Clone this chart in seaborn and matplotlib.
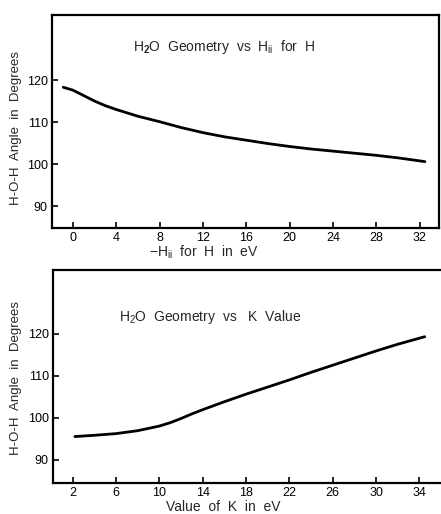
import matplotlib
matplotlib.use("Agg")
import matplotlib.pyplot as plt
import seaborn as sns
import pandas as pd

# Top panel: H-O-H angle vs -Hii for H
hii_x = [-0.9, 0, 1, 2, 3, 4, 6, 8, 10, 12, 14, 16, 18, 20, 22, 24, 26, 28, 30, 32.5]
hii_angle = [118.3, 117.6, 116.3, 115.0, 113.9, 113.0, 111.4, 110.1, 108.7, 107.5,
             106.5, 105.7, 104.9, 104.2, 103.6, 103.1, 102.6, 102.1, 101.5, 100.6]

# Bottom panel: H-O-H angle vs K value
k_x = [2.2, 4, 6, 8, 10, 11, 12, 13, 14, 16, 18, 20, 22, 24, 26, 28, 30, 32, 34.5]
k_angle = [95.5, 95.8, 96.2, 96.9, 98.0, 98.8, 99.8, 100.9, 101.9, 103.8, 105.6,
           107.3, 109.0, 110.8, 112.5, 114.2, 115.9, 117.5, 119.3]

top_xticks = [0, 4, 8, 12, 16, 20, 24, 28, 32]
bot_xticks = [2, 6, 10, 14, 18, 22, 26, 30, 34]
yticks = [90, 100, 110, 120]

sns.set_style("ticks")
plt.rcParams['font.family'] = ['Liberation Sans', 'DejaVu Sans']
plt.rcParams['mathtext.fontset'] = 'custom'
plt.rcParams['mathtext.rm'] = 'Liberation Sans'
plt.rcParams['mathtext.it'] = 'Liberation Sans'
plt.rcParams['mathtext.bf'] = 'Liberation Sans:bold'

fig = plt.figure(figsize=(4.41, 5.14), dpi=100)
ax1 = fig.add_axes([52/441, 1-228/514, (439-52)/441, (228-15)/514])
ax2 = fig.add_axes([53/441, 1-482.7/514, (441-53)/441, (482.7-270)/514])

df1 = pd.DataFrame({"x": hii_x, "y": hii_angle})
df2 = pd.DataFrame({"x": k_x, "y": k_angle})
sns.lineplot(data=df1, x="x", y="y", ax=ax1, color="black", linewidth=2.0, estimator=None, sort=False)
sns.lineplot(data=df2, x="x", y="y", ax=ax2, color="black", linewidth=2.0, estimator=None, sort=False)

ax1.set_xlim(-1.94, 33.8)
ax1.set_ylim(84.8, 135.5)
ax2.set_xlim(0.18, 36)
ax2.set_ylim(84.5, 135.2)

ax1.set_xticks(top_xticks)
ax2.set_xticks(bot_xticks)
for ax in (ax1, ax2):
    ax.set_yticks(yticks)
    ax.tick_params(direction="in", length=4, width=1.2, labelsize=9, pad=3, colors="black")
    for s in ax.spines.values():
        s.set_linewidth(1.6)
        s.set_color("black")
    ax.set_ylabel("H-O-H  Angle  in  Degrees", fontsize=9.5)

ax2.spines["right"].set_visible(False)

ax1.set_xlabel(r"$-$H$_{\rm ii}$  for  H  in  eV", fontsize=10)
ax1.xaxis.set_label_coords(0.393, -0.072)
ax2.set_xlabel("Value  of  K  in  eV", fontsize=10)
ax2.xaxis.set_label_coords(0.44, -0.082)
ax1.yaxis.set_label_coords(-0.078, 0.47)
ax2.yaxis.set_label_coords(-0.08, 0.49)

ax1.text(0.209, 0.85, r"H$_{\mathbf{2}}$O  Geometry  vs  H$_{\rm ii}$  for  H", transform=ax1.transAxes,
         fontsize=10, ha="left", va="center")
ax2.text(0.17, 0.78, r"H$_{2}$O  Geometry  vs   K  Value", transform=ax2.transAxes,
         fontsize=10, ha="left", va="center")

fig.savefig("out.png", dpi=100)
